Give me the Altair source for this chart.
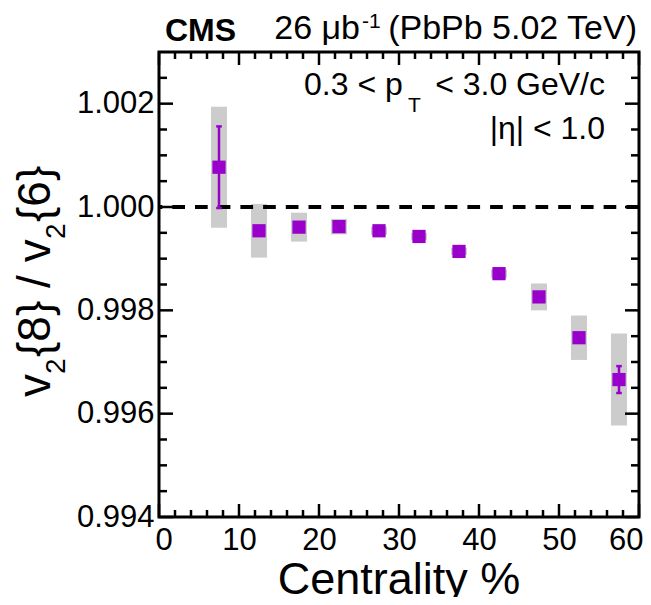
import altair as alt
import pandas as pd

# ---- data ----
centrality = [7.5, 12.5, 17.5, 22.5, 27.5, 32.5, 37.5, 42.5, 47.5, 52.5, 57.5]
ratio = [1.00077, 0.99954, 0.99961, 0.99962, 0.99954, 0.99943, 0.99914, 0.99871, 0.99826, 0.99747, 0.99666]
stat_err = [0.00079, 0.00005, 0.00004, 0.00004, 0.00004, 0.00004, 0.00004, 0.00005, 0.00006, 0.00008, 0.00026]
syst_err = [0.00117, 0.00052, 0.00028, 0.00015, 0.00008, 0.00007, 0.00007, 0.00008, 0.00026, 0.00043, 0.00089]
bin_half = 1.0

x_major = [0, 10, 20, 30, 40, 50, 60]
x_minor = [v for v in range(2, 60, 2) if v % 10 != 0]
y_major = [0.994, 0.996, 0.998, 1.000, 1.002]
y_minor = [0.9945, 0.995, 0.9955, 0.9965, 0.997, 0.9975, 0.9985, 0.999, 0.9995,
           1.0005, 1.001, 1.0015, 1.0025]

FONT = "Liberation Sans"
PURPLE = "#9900cc"
W, H = 480, 465

df = pd.DataFrame({"cent": centrality, "r": ratio, "stat": stat_err, "syst": syst_err})
df["xlo"] = df["cent"] - bin_half
df["xhi"] = df["cent"] + bin_half
df["slo"] = df["r"] - df["syst"]
df["shi"] = df["r"] + df["syst"]
df["elo"] = df["r"] - df["stat"]
df["ehi"] = df["r"] + df["stat"]
df["clo"] = df["cent"] - 0.35
df["chi"] = df["cent"] + 0.35

xs = alt.Scale(domain=[0, 60], nice=False, zero=False)
ys = alt.Scale(domain=[0.994, 1.003], nice=False, zero=False)
xax = alt.Axis(values=x_major, format="d", title=None, ticks=False, domain=False, grid=False,
               labelFont=FONT, labelFontSize=31, labelColor="black", labelPadding=8,
               labelOverlap=False, labelFlush=True, labelFlushOffset=4)
yax = alt.Axis(values=y_major, format=".3f", title=None, ticks=False, domain=False, grid=False,
               labelFont=FONT, labelFontSize=31, labelColor="black", labelPadding=5,
               labelOverlap=False, labelFlush=False)


def X(f):
    return alt.X(f, type="quantitative", scale=xs, axis=xax)


def Y(f):
    return alt.Y(f, type="quantitative", scale=ys, axis=yax)


base = alt.Chart(df)

boxes = base.mark_rect(color="#cccccc").encode(
    x=X("xlo"), x2="xhi", y=Y("slo"), y2="shi")

dashed = alt.Chart(pd.DataFrame({"ref": [1.0]})).mark_rule(
    color="black", strokeWidth=4, strokeDash=[12.7, 10]).encode(y=Y("ref"))

big = base.transform_filter("datum.stat > 0.00013")
ebar = big.mark_rule(color=PURPLE, strokeWidth=2.5).encode(x=X("cent"), y=Y("elo"), y2="ehi")
cap_hi = big.mark_rule(color=PURPLE, strokeWidth=2.5).encode(x=X("clo"), x2="chi", y=Y("ehi"))
cap_lo = big.mark_rule(color=PURPLE, strokeWidth=2.5).encode(x=X("clo"), x2="chi", y=Y("elo"))

points = base.mark_square(color=PURPLE, size=175, opacity=1).encode(x=X("cent"), y=Y("r"))

# plot frame
frame = alt.Chart(pd.DataFrame({"f": [0]})).mark_rect(
    fill=None, stroke="black", strokeWidth=3
).encode(x=alt.value(0), x2=alt.value(W), y=alt.value(0), y2=alt.value(H))


# inward ticks on all four sides
def xticks(vals, length):
    d = alt.Chart(pd.DataFrame({"tx": vals}))
    bot = d.mark_rule(color="black", strokeWidth=2.5).encode(
        x=X("tx"), y=alt.value(H), y2=alt.value(H - length))
    top = d.mark_rule(color="black", strokeWidth=2.5).encode(
        x=X("tx"), y=alt.value(0), y2=alt.value(length))
    return [bot, top]


def yticks(vals, length):
    d = alt.Chart(pd.DataFrame({"ty": vals}))
    left = d.mark_rule(color="black", strokeWidth=2.5).encode(
        y=Y("ty"), x=alt.value(0), x2=alt.value(length))
    right = d.mark_rule(color="black", strokeWidth=2.5).encode(
        y=Y("ty"), x=alt.value(W), x2=alt.value(W - length))
    return [left, right]


def label(txt, x, y, size, align="left", bold=False, angle=0):
    return alt.Chart(pd.DataFrame({"t": [txt]})).mark_text(
        align=align, baseline="alphabetic", font=FONT, fontSize=size,
        fontWeight="bold" if bold else "normal", angle=angle, color="black"
    ).encode(x=alt.value(x), y=alt.value(y), text="t:N")


texts = [
    label("CMS", 6, -11, 32, bold=True),
    label("26 μb", 201, -13, 34, align="right"),
    label("-1", 203, -24, 21),
    label("(PbPb 5.02 TeV)", 478, -13, 34, align="right"),
    label("0.3 < p", 145, 43, 32),
    label("T", 249, 60, 21),
    label("< 3.0 GeV/c", 446, 43, 32, align="right"),
    label("|η| < 1.0", 446, 87, 32, align="right"),
    label("Centrality %", 240, 542, 45, align="center"),
    # rotated y title pieces (text runs upward)
    label("v", -109, 345, 46, angle=270),
    label("2", -94, 322, 28, angle=270),
    label("{8} / v", -109, 305, 46, angle=270),
    label("2", -94, 187, 28, angle=270),
    label("{6}", -109, 170, 46, angle=270),
]

layers = [boxes, dashed, ebar, cap_hi, cap_lo, points, frame]
layers += xticks(x_major, 13) + xticks(x_minor, 7)
layers += yticks(y_major, 14) + yticks(y_minor, 8)
layers += texts

chart = alt.layer(*layers).properties(
    width=W, height=H,
    autosize=alt.AutoSizeParams(type="none"),
    padding={"left": 151, "top": 44, "right": 4, "bottom": 80},
    background="white",
).configure_view(stroke=None)

chart.save("out.html", embed_options={"renderer": "svg", "actions": False})
